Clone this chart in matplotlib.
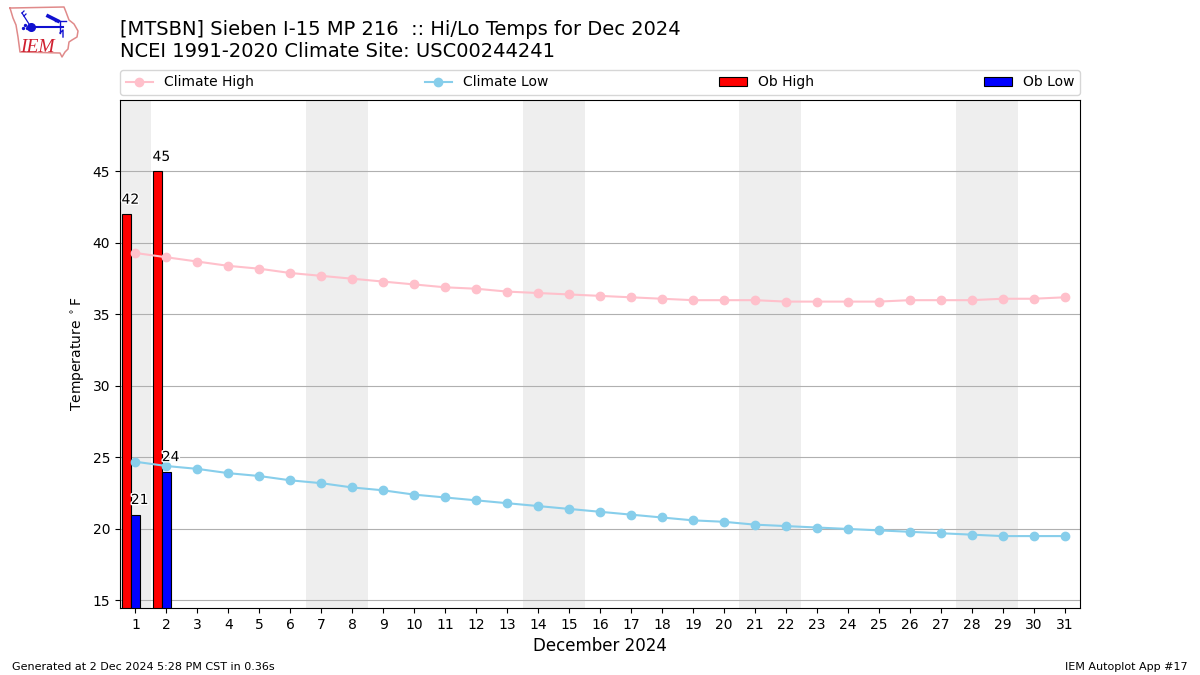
import matplotlib
matplotlib.use("Agg")
import matplotlib.pyplot as plt
import matplotlib.patheffects as pe

days = list(range(1, 32))
climate_high = [39.3, 39.0, 38.7, 38.4, 38.2, 37.9, 37.7, 37.5, 37.3, 37.1, 36.9,
                36.8, 36.6, 36.5, 36.4, 36.3, 36.2, 36.1, 36.0, 36.0, 36.0, 35.9,
                35.9, 35.9, 35.9, 36.0, 36.0, 36.0, 36.1, 36.1, 36.2]
climate_low = [24.7, 24.4, 24.2, 23.9, 23.7, 23.4, 23.2, 22.9, 22.7, 22.4, 22.2,
               22.0, 21.8, 21.6, 21.4, 21.2, 21.0, 20.8, 20.6, 20.5, 20.3, 20.2,
               20.1, 20.0, 19.9, 19.8, 19.7, 19.6, 19.5, 19.5, 19.5]
ob_days = [1, 2]
ob_high = [42, 45]
ob_low = [21, 24]
weekends = [(0.5, 1.5), (6.5, 8.5), (13.5, 15.5), (20.5, 22.5), (27.5, 29.5)]

fig = plt.figure(figsize=(12, 6.75), dpi=100)
ax = fig.add_axes([0.1, 1 - 608 / 675, 0.8, 508 / 675])

for start, end in weekends:
    ax.axvspan(start, end, color="#eeeeee", lw=0, zorder=0)

ax.grid(axis="y", color="#b0b0b0", lw=0.8, zorder=1)
ax.set_axisbelow(True)

width = 0.3
ax.bar([d - width for d in ob_days], ob_high, width=width, color="red", edgecolor="k",
       lw=0.8, label="Ob High", zorder=2)
ax.bar(ob_days, ob_low, width=width, color="blue", edgecolor="k",
       lw=0.8, label="Ob Low", zorder=2)
ax.plot(days, climate_high, marker="o", color="pink", label="Climate High", zorder=3)
ax.plot(days, climate_low, marker="o", color="skyblue", label="Climate Low", zorder=3)

halo = [pe.withStroke(linewidth=2, foreground="white")]
for d, hi, lo in zip(ob_days, ob_high, ob_low):
    ax.annotate(str(hi), (d - 1.5 * width, hi), xytext=(0, 5.5), textcoords="offset points",
                ha="left", va="bottom", fontsize=10, path_effects=halo, zorder=4)
    ax.annotate(str(lo), (d - 0.5 * width, lo), xytext=(0, 5.5), textcoords="offset points",
                ha="left", va="bottom", fontsize=10, path_effects=halo, zorder=4)

ax.set_xlim(0.5, 31.5)
ax.set_ylim(14.47, 50)
ax.set_xticks(days)
ax.set_yticks([15, 20, 25, 30, 35, 40, 45])
ax.set_xlabel("December 2024", fontsize=12)
ax.set_ylabel(r"Temperature $^\circ$F")

handles, labels = ax.get_legend_handles_labels()
order = [labels.index(n) for n in ["Climate High", "Climate Low", "Ob High", "Ob Low"]]
ax.legend([handles[i] for i in order], [labels[i] for i in order], ncol=4, mode="expand",
          loc="lower left", bbox_to_anchor=(0, 1.01, 1, 0.05), borderaxespad=0)

fig.text(0.1, 1 - 35 / 675, "[MTSBN] Sieben I-15 MP 216  :: Hi/Lo Temps for Dec 2024", fontsize=14)
fig.text(0.1, 1 - 57 / 675, "NCEI 1991-2020 Climate Site: USC00244241", fontsize=14)
fig.text(12 / 1200, 1 - 670 / 675, "Generated at 2 Dec 2024 5:28 PM CST in 0.36s", fontsize=8)
fig.text(1188 / 1200, 1 - 670 / 675, "IEM Autoplot App #17", fontsize=8, ha="right")

# rough logo, in pixel coords
logo = fig.add_axes([0, 1 - 65 / 675, 90 / 1200, 65 / 675])
logo.set_xlim(0, 90)
logo.set_ylim(65, 0)
logo.axis("off")
outline_x = [10, 11, 64, 66, 69, 74, 78, 77, 72, 69, 68, 65, 62, 60, 20, 18, 16, 13, 10]
outline_y = [8, 8, 7, 12, 20, 24, 31, 37, 40, 42, 49, 52, 57, 53, 52, 37, 25, 18, 8]
logo.plot(outline_x, outline_y, color="#e08a8a", lw=1.1)
blue = "#1010d0"
logo.plot([31, 63], [26.5, 26.5], color=blue, lw=1.5)
logo.plot([31], [26.5], marker="o", color=blue, ms=5.5)
logo.plot([48, 58], [16, 21], color=blue, lw=2.6)
logo.plot([55, 66], [21, 21], color=blue, lw=1)
logo.plot([60, 60], [21, 33], color=blue, lw=1)
logo.plot([60, 63, 63], [33, 30, 37], color=blue, lw=1)
logo.plot([22, 29], [13, 24], color=blue, lw=0.9)
logo.plot([22, 24], [13, 11], color=blue, lw=0.9)
logo.plot([24, 26], [16, 14], color=blue, lw=0.9)
logo.plot([23, 25, 27], [28, 25, 28], ls="none", marker="o", ms=1.4, color=blue)
logo.text(37.5, 52.5, "IEM", color="#d02030", fontsize=14, family="Liberation Serif",
          style="italic", ha="center", va="baseline")

fig.savefig("out.png", dpi=100)
